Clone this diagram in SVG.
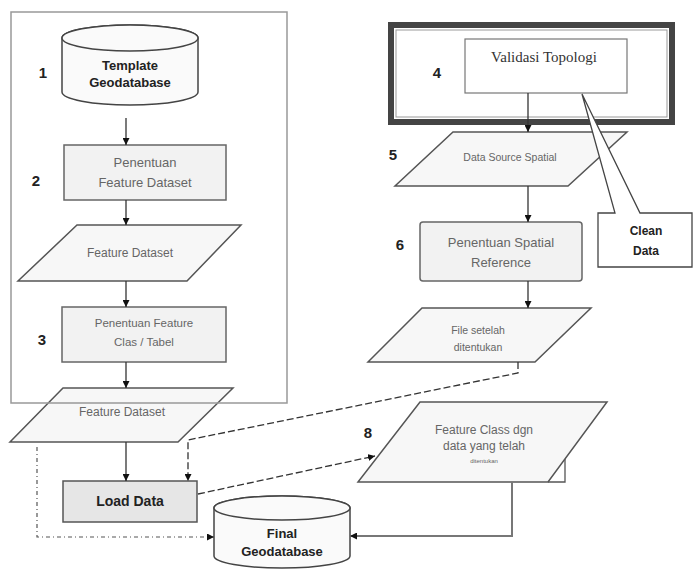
<svg xmlns="http://www.w3.org/2000/svg" width="694" height="573" viewBox="0 0 694 573">
<style>
.t{font-family:"Liberation Sans",Arial,sans-serif;fill:#666;text-anchor:middle}
.b{font-family:"Liberation Sans",Arial,sans-serif;font-weight:bold;fill:#222;text-anchor:middle}
.n{font-family:"Liberation Sans",Arial,sans-serif;font-weight:bold;fill:#222;font-size:15px;text-anchor:middle}
.box{fill:#f2f2f2;stroke:#666;stroke-width:1.5}
.par{fill:#f7f7f7;stroke:#555;stroke-width:1.5}
.cyl{fill:#fafafa;stroke:#444;stroke-width:1.5}
.ln{fill:none;stroke:#333;stroke-width:1.3}
.dash{fill:none;stroke:#333;stroke-width:1.3;stroke-dasharray:7 3}
</style>
<defs>
<marker id="ar" viewBox="0 0 10 10" refX="10" refY="5" markerWidth="7" markerHeight="7" markerUnits="userSpaceOnUse" orient="auto">
<path d="M0,0 L10,5 L0,10 Z" fill="#111"/>
</marker>
</defs>
<rect width="694" height="573" fill="#fff"/>

<g id="n1">
<path class="cyl" d="M62,38 A68,13 0 0 1 198,38 L198,92 A68,13 0 0 1 62,92 Z"/>
<ellipse class="cyl" cx="130" cy="38" rx="68" ry="13"/>
<text class="b" x="130" y="70" font-size="13">Template</text>
<text class="b" x="130" y="87" font-size="13">Geodatabase</text>
<text class="n" x="43" y="78">1</text>
</g>
<g id="n2">
<rect class="box" x="64" y="145" width="162" height="55"/>
<text class="t" x="145" y="167" font-size="13">Penentuan</text>
<text class="t" x="145" y="187" font-size="13">Feature Dataset</text>
<text class="n" x="36" y="186">2</text>
</g>
<g id="n2b">
<path class="par" d="M77,225 L241,225 L187,281 L18,281 Z"/>
<text class="t" x="130" y="257" font-size="12">Feature Dataset</text>
</g>
<g id="n3">
<rect class="box" x="62" y="307" width="164" height="55"/>
<text class="t" x="144" y="327" font-size="11.5">Penentuan Feature</text>
<text class="t" x="144" y="346" font-size="11.5">Clas / Tabel</text>
<text class="n" x="42" y="345">3</text>
</g>
<g id="n3b">
<path class="par" d="M63,388 L233,388 L178,442 L10,442 Z"/>
<text class="t" x="122" y="416" font-size="12">Feature Dataset</text>
</g>
<g id="container">
<rect x="11" y="12" width="276" height="391" fill="none" stroke="#999" stroke-width="1.5"/>
</g>
<g id="n7">
<rect x="63" y="481" width="134" height="41" fill="#e6e6e6" stroke="#555" stroke-width="1.5"/>
<text class="b" x="130" y="506" font-size="14">Load Data</text>
</g>
<g id="nfinal">
<path class="cyl" d="M214,508 A68,12 0 0 1 350,508 L350,556 A68,12 0 0 1 214,556 Z"/>
<ellipse class="cyl" cx="282" cy="508" rx="68" ry="12"/>
<text class="b" x="282" y="538" font-size="13">Final</text>
<text class="b" x="282" y="556" font-size="13">Geodatabase</text>
</g>

<g id="n4">
<rect x="391" y="25" width="281" height="97" fill="#fff" stroke="#444" stroke-width="6"/>
<rect x="396" y="30" width="271" height="87" fill="none" stroke="#999" stroke-width="1"/>
<rect x="465" y="39" width="162" height="54" fill="#fff" stroke="#777" stroke-width="1.2"/>
<text x="544" y="62" font-family="'Liberation Serif','Times New Roman',serif" font-size="15" fill="#333" text-anchor="middle">Validasi Topologi</text>
<text class="n" x="437" y="78">4</text>
</g>
<g id="n5">
<path class="par" d="M453,132 L627,132 L568,186 L395,186 Z"/>
<text class="t" x="510" y="161" font-size="10.5">Data Source Spatial</text>
<text class="n" x="393" y="160">5</text>
</g>
<g id="n6">
<rect class="box" x="420" y="222" width="162" height="59" rx="3"/>
<text class="t" x="501" y="247" font-size="13">Penentuan  Spatial</text>
<text class="t" x="501" y="267" font-size="13">Reference</text>
<text class="n" x="400" y="250" font-size="13">6</text>
</g>
<g id="n6b">
<path class="par" d="M422,308 L591,308 L535,362 L368,362 Z"/>
<text class="t" x="478" y="334" font-size="10.5">File setelah</text>
<text class="t" x="478" y="351" font-size="10.5">ditentukan</text>
</g>
<g id="nclean">
<path d="M598,213 L615,213 L582,94 L640,213 L692,213 L692,267 L598,267 Z" fill="#fff" stroke="#444" stroke-width="1.3"/>
<text class="b" x="646" y="235" font-size="12">Clean</text>
<text class="b" x="646" y="255" font-size="12">Data</text>
</g>
<g id="n8">
<path d="M548,482 L565,482 L565,457" fill="none" stroke="#555" stroke-width="1.3"/>
<path class="par" d="M420,402 L607,402 L548,482 L358,482 Z"/>
<text class="t" x="484" y="434" font-size="12">Feature Class dgn</text>
<text class="t" x="484" y="450" font-size="12">data yang telah</text>
<text class="t" x="484" y="463" font-size="6">ditentukan</text>
<text class="n" x="368" y="438">8</text>
</g>

<g id="connectors">
<line class="ln" x1="126" y1="118" x2="126" y2="145" marker-end="url(#ar)"/>
<line class="ln" x1="126" y1="200" x2="126" y2="225" marker-end="url(#ar)"/>
<line class="ln" x1="126" y1="281" x2="126" y2="307" marker-end="url(#ar)"/>
<line class="ln" x1="126" y1="362" x2="126" y2="388" marker-end="url(#ar)"/>
<line class="ln" x1="126" y1="442" x2="126" y2="481" marker-end="url(#ar)"/>
<line class="ln" x1="528" y1="93" x2="528" y2="132" marker-end="url(#ar)"/>
<line class="ln" x1="528" y1="186" x2="528" y2="222" marker-end="url(#ar)"/>
<line class="ln" x1="528" y1="281" x2="528" y2="308" marker-end="url(#ar)"/>
<path class="dash" d="M518,362 L518,373 L188,440 L188,481" marker-end="url(#ar)"/>
<line class="dash" x1="198" y1="494" x2="375" y2="456" marker-end="url(#ar)"/>
<path d="M512,482 L512,536 L350,536" fill="none" stroke="#777" stroke-width="2" marker-end="url(#ar)"/>
<path d="M37,447 L37,537 L214,537" fill="none" stroke="#555" stroke-width="1.2" stroke-dasharray="4 3 1 3" marker-end="url(#ar)"/>
</g>
</svg>
